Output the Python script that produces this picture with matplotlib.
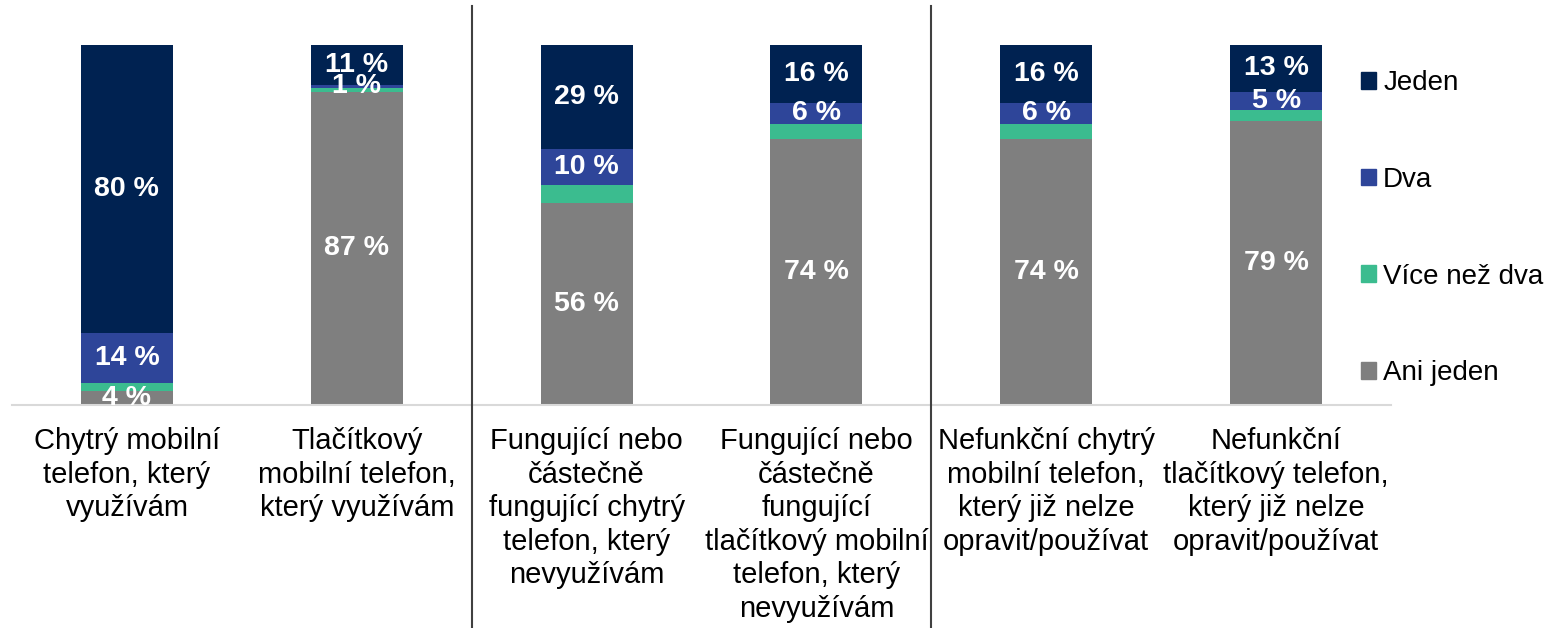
import matplotlib.pyplot as plt
from matplotlib.lines import Line2D
from matplotlib.patches import Patch
import matplotlib.transforms as mtransforms
import numpy as np

plt.rcParams['font.family'] = ['Liberation Sans', 'DejaVu Sans']

# Data
kategorie = ["Chytrý mobilní\ntelefon, který\nvyužívám",
             "Tlačítkový\nmobilní telefon,\nkterý využívám",
             "Fungující nebo\nčástečně\nfungující chytrý\ntelefon, který\nnevyužívám",
             "Fungující nebo\nčástečně\nfungující\ntlačítkový mobilní\ntelefon, který\nnevyužívám",
             "Nefunkční chytrý\nmobilní telefon,\nkterý již nelze\nopravit/používat",
             "Nefunkční\ntlačítkový telefon,\nkterý již nelze\nopravit/používat"]
ani_jeden = [4, 87, 56, 74, 74, 79]
vice_nez_dva = [2, 1, 5, 4, 4, 3]
dva = [14, 1, 10, 6, 6, 5]
jeden = [80, 11, 29, 16, 16, 13]

serie = [("Ani jeden", ani_jeden, "#7f7f7f", True),
         ("Více než dva", vice_nez_dva, "#3bbc8f", False),
         ("Dva", dva, "#2e4599", True),
         ("Jeden", jeden, "#002251", True)]

fig = plt.figure(figsize=(15.57, 6.28), dpi=100)
ax = fig.add_axes([12 / 1557, 223 / 628, (1391 - 12) / 1557, 360 / 628])

x = np.arange(len(kategorie))
bottom = np.zeros(len(kategorie))
for nazev, hodnoty, barva, popisek in serie:
    hodnoty = np.array(hodnoty, dtype=float)
    ax.bar(x, hodnoty, 0.4, bottom=bottom, color=barva, label=nazev)
    if popisek:
        for xi, b, h in zip(x, bottom, hodnoty):
            ax.text(xi, b + h / 2, f"{int(h)} %", ha='center', va='center',
                    color='white', fontsize=20.5, fontweight='bold')
    bottom += hodnoty

ax.set_xlim(-0.5, len(kategorie) - 0.5)
ax.set_ylim(0, 100)
ax.set_yticks([])
ax.set_xticks(x)
ax.set_xticklabels(kategorie, fontsize=21, linespacing=1.25)
ax.tick_params(axis='x', length=0, pad=16)
for s in ['top', 'right', 'left']:
    ax.spines[s].set_visible(False)
ax.spines['bottom'].set_color('#d9d9d9')
ax.spines['bottom'].set_linewidth(1.5)

# oddelovaci cary
trans = mtransforms.blended_transform_factory(ax.transData, fig.transFigure)
for xs in [1.5, 3.5]:
    fig.add_artist(Line2D([xs, xs], [0, 1 - 6 / 628], transform=trans,
                          color='#404040', linewidth=1.5))

handles = [Patch(color=c, label=n) for n, _, c, _ in serie][::-1]
fig.legend(handles=handles, loc='upper left', bbox_to_anchor=(1361 / 1557, 1 - 70 / 628),
           frameon=False, fontsize=20, handlelength=0.55, handleheight=0.55,
           handletextpad=0.25, labelspacing=2.55, borderaxespad=0, borderpad=0)

plt.savefig("out.png", dpi=100)
